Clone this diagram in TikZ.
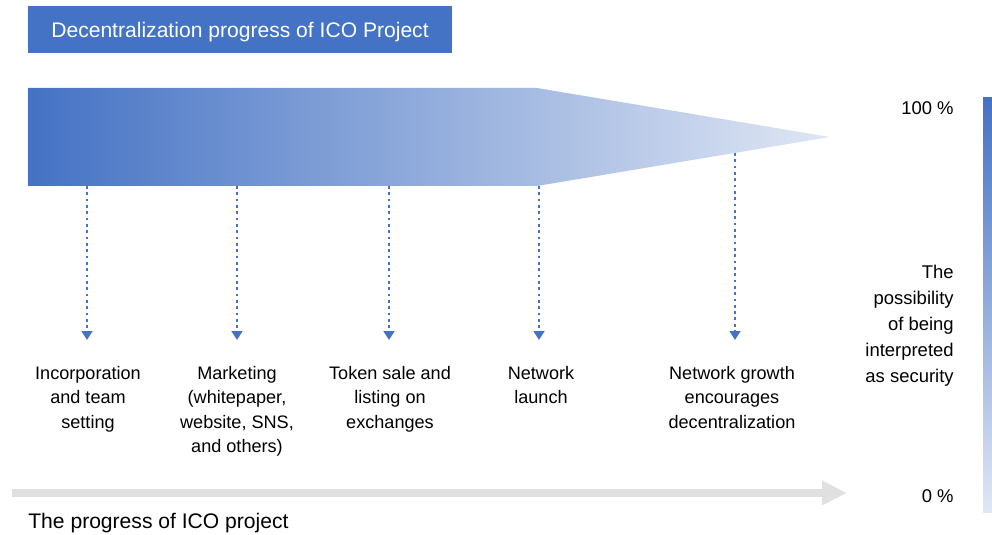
\documentclass[tikz,border=0pt]{standalone}
\usepackage{fontspec}
\setmainfont{Liberation Sans}
\usepackage{tkz-euclide}
\usetikzlibrary{arrows.meta}
\definecolor{icoblue}{HTML}{4472C4}
\definecolor{icomid}{HTML}{A9BFE5}
\definecolor{icopale}{HTML}{E0E7F4}
\definecolor{icogrey}{HTML}{E0E0E0}
\tikzset{
  stage/.style={anchor=north,align=center,inner sep=0pt,
    font=\fontsize{10.3}{13.9}\selectfont},
  drop/.style={icoblue,line width=1.6pt,dotted,
    -{Triangle[width=6pt,length=5pt]}},
  axislabel/.style={anchor=east,align=right,inner sep=0pt,
    font=\fontsize{10.5}{14.8}\selectfont}
}
\begin{document}
\begin{tikzpicture}
\useasboundingbox (0,0) rectangle (19.84,10.68);
% title
\node[fill=icoblue,text=white,minimum width=8.48cm,minimum height=0.94cm,
  inner sep=0pt,text depth=0pt,font=\fontsize{12}{14}\selectfont]
  (title) at (4.80,10.09) {Decentralization progress of ICO Project};
% the shaded wedge
\tkzDefPoint(0.56,8.92){A}
\tkzDefPoint(10.74,8.92){B}
\tkzDefPoint(16.60,7.94){C}
\tkzDefPoint(10.74,6.96){D}
\tkzDefPoint(0.56,6.96){E}
\shade[left color=icoblue,middle color=icomid,right color=icopale] (A) -- (B) -- (C) -- (D) -- (E) -- cycle;
% stages
\tkzDefPoint(1.74,6.96){s1}
\tkzDefPoint(4.74,6.96){s2}
\tkzDefPoint(7.78,6.96){s3}
\tkzDefPoint(10.78,6.96){s4}
\tkzDefPoint(14.70,7.62){s5}
\tkzDefPoint(1.74,3.88){t1}
\tkzDefPoint(4.74,3.88){t2}
\tkzDefPoint(7.78,3.88){t3}
\tkzDefPoint(10.78,3.88){t4}
\tkzDefPoint(14.70,3.88){t5}
\foreach \i in {1,...,5}
  \draw[drop] (s\i) -- (t\i);
\node[stage] (inc) at (1.76,3.36) {Incorporation\\and team\\setting};
\node[stage] (mkt) at (4.74,3.36) {Marketing\\(whitepaper,\\website, SNS,\\and others)};
\node[stage] (tok) at (7.80,3.36) {Token sale and\\listing on\\exchanges};
\node[stage] (net) at (10.82,3.36) {Network\\launch};
\node[stage] (grw) at (14.64,3.36) {Network growth\\encourages\\decentralization};
% progress axis
\tkzDefPoint(0.24,0.82){P}
\tkzDefPoint(16.94,0.82){Q}
\draw[icogrey,line width=0.16cm,-{Triangle[width=0.46cm,length=0.5cm]}] (P) -- (Q);
\node[anchor=west,inner sep=0pt,font=\fontsize{12}{14}\selectfont]
  (prog) at (0.56,0.22) {The progress of ICO project};
% security scale
\shade[top color=icoblue,bottom color=icopale] (19.66,0.44) rectangle (19.84,8.72);
\node[axislabel] (top) at (19.08,8.52) {100 \%};
\node[axislabel] (bot) at (19.08,0.76) {0 \%};
\node[axislabel] (sec) at (19.08,4.16) {The\\possibility\\of being\\interpreted\\as security};
\end{tikzpicture}
\end{document}
